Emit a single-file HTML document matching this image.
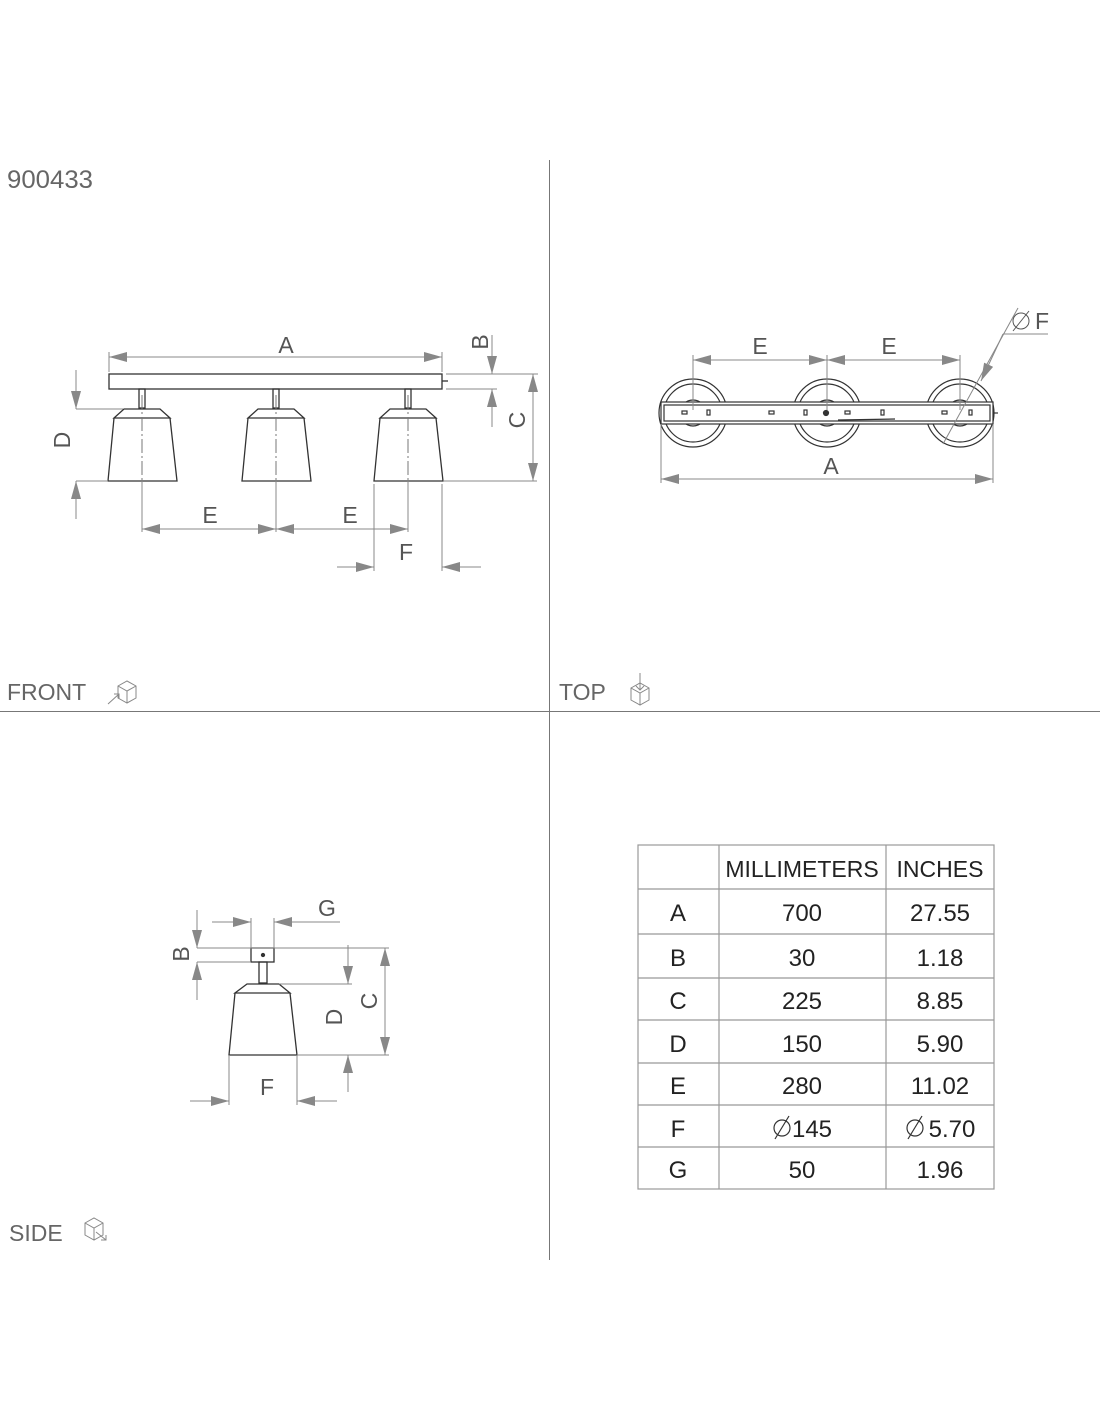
<!DOCTYPE html>
<html><head><meta charset="utf-8"><style>
html,body{margin:0;padding:0;background:#fff;}
svg{display:block;}
text{font-family:"Liberation Sans",sans-serif;}
</style></head><body>
<svg width="1100" height="1422" viewBox="0 0 1100 1422" xmlns="http://www.w3.org/2000/svg">
<defs>
<marker id="ar" markerUnits="userSpaceOnUse" markerWidth="18" markerHeight="10" refX="18" refY="5" orient="auto-start-reverse"><path d="M0,0 L18,5 L0,10 z" fill="#888"/></marker>
</defs>
<rect width="1100" height="1422" fill="#fff"/>
<line x1="549.5" y1="160" x2="549.5" y2="1260" stroke="#777" stroke-width="1"/>
<line x1="0" y1="711.5" x2="1100" y2="711.5" stroke="#777" stroke-width="1"/>
<g fill="#666" font-size="23">
<text x="7" y="188" font-size="25" textLength="86" lengthAdjust="spacingAndGlyphs">900433</text>
<text x="7" y="700">FRONT</text>
<text x="559" y="700">TOP</text>
<text x="9" y="1241">SIDE</text>
</g>
<g fill="none" stroke="#888" stroke-width="1">
<path d="M118,686 L127,681 L136,686 L136,698 L127,703 L118,698 Z M118,686 L127,691 L136,686 M127,691 L127,703"/>
<path d="M108,704 L119,694 M114,694 L119,694 L119,699"/>
<path d="M631,688 L640,683 L649,688 L649,700 L640,705 L631,700 Z M631,688 L640,693 L649,688 M640,693 L640,705"/>
<path d="M640,673 L640,690 M636,686 L640,690 L644,686"/>
<path d="M85,1223 L94,1218 L103,1223 L103,1235 L94,1240 L85,1235 Z M85,1223 L94,1228 L103,1223 M94,1228 L94,1240"/>
<path d="M96,1232 L106,1240 M101,1240 L106,1240 L106,1235"/>
</g>

<!-- FRONT VIEW -->
<g stroke="#333" stroke-width="1.3" fill="none">
<rect x="109" y="374" width="333" height="15"/>
<line x1="442" y1="381" x2="448" y2="381"/>
<g id="lamp">
<rect x="139" y="389" width="6" height="19"/>
<path d="M124,409 L160,409 L170,418 L114,418 Z"/>
<path d="M114,418 L108,481 L177,481 L170,418"/>
</g>
<use href="#lamp" x="134"/>
<use href="#lamp" x="266"/>
</g>
<g stroke="#777" stroke-width="1" stroke-dasharray="14,3,2,3" fill="none">
<line x1="142" y1="395" x2="142" y2="481"/>
<line x1="276" y1="395" x2="276" y2="481"/>
<line x1="408" y1="395" x2="408" y2="481"/>
</g>
<g stroke="#888" stroke-width="1" fill="none">
<line x1="109" y1="357" x2="442" y2="357" marker-start="url(#ar)" marker-end="url(#ar)"/>
<line x1="109" y1="352" x2="109" y2="372"/><line x1="442" y1="352" x2="442" y2="372"/>
<line x1="446" y1="374" x2="538" y2="374"/>
<line x1="446" y1="389" x2="497" y2="389"/>
<line x1="492" y1="335" x2="492" y2="374" marker-end="url(#ar)"/>
<line x1="492" y1="427" x2="492" y2="389" marker-end="url(#ar)"/>
<line x1="533" y1="374" x2="533" y2="481" marker-start="url(#ar)" marker-end="url(#ar)"/>
<line x1="444" y1="481" x2="537" y2="481"/>
<line x1="76" y1="409" x2="123" y2="409"/>
<line x1="76" y1="481" x2="108" y2="481"/>
<line x1="76" y1="370" x2="76" y2="409" marker-end="url(#ar)"/>
<line x1="76" y1="519" x2="76" y2="481" marker-end="url(#ar)"/>
<line x1="142" y1="481" x2="142" y2="532"/>
<line x1="276" y1="481" x2="276" y2="532"/>
<line x1="408" y1="481" x2="408" y2="532"/>
<line x1="142" y1="529" x2="276" y2="529" marker-start="url(#ar)" marker-end="url(#ar)"/>
<line x1="276" y1="529" x2="408" y2="529" marker-start="url(#ar)" marker-end="url(#ar)"/>
<line x1="374" y1="484" x2="374" y2="571"/>
<line x1="442" y1="484" x2="442" y2="571"/>
<line x1="337" y1="567" x2="374" y2="567" marker-end="url(#ar)"/>
<line x1="481" y1="567" x2="442" y2="567" marker-end="url(#ar)"/>
</g>
<g fill="#555" font-size="23" text-anchor="middle">
<text x="286" y="353">A</text>
<text x="210" y="523">E</text>
<text x="350" y="523">E</text>
<text x="406" y="560">F</text>
<text transform="translate(70,440) rotate(-90)">D</text>
<text transform="translate(525,420) rotate(-90)">C</text>
<text transform="translate(488,342) rotate(-90)">B</text>
</g>

<!-- TOP VIEW -->
<g stroke="#333" stroke-width="1.2" fill="none">
<g id="disc">
<circle cx="693" cy="413" r="34"/>
<circle cx="693" cy="413" r="29"/>
<circle cx="693" cy="413" r="13"/>
</g>
<use href="#disc" x="134"/>
<use href="#disc" x="267"/>
<rect x="661" y="402" width="332" height="22" fill="#fff"/>
<rect x="664" y="405" width="326" height="16"/>
<line x1="993" y1="413" x2="998" y2="413"/>
<rect x="682" y="411" width="5" height="3"/><rect x="707" y="410" width="3" height="5"/>
<rect x="769" y="411" width="5" height="3"/><rect x="804" y="410" width="3" height="5"/>
<circle cx="826" cy="413" r="2.5" fill="#333"/>
<rect x="845" y="411" width="5" height="3"/><rect x="881" y="410" width="3" height="5"/>
<rect x="942" y="411" width="5" height="3"/><rect x="969" y="410" width="3" height="5"/>
<line x1="838" y1="420" x2="895" y2="419"/>
</g>
<g stroke="#888" stroke-width="1" fill="none">
<line x1="693" y1="355" x2="693" y2="410"/>
<line x1="827" y1="355" x2="827" y2="410"/>
<line x1="960" y1="355" x2="960" y2="410"/>
<line x1="693" y1="360" x2="827" y2="360" marker-start="url(#ar)" marker-end="url(#ar)"/>
<line x1="827" y1="360" x2="960" y2="360" marker-start="url(#ar)" marker-end="url(#ar)"/>
<line x1="661" y1="424" x2="661" y2="483"/>
<line x1="993" y1="424" x2="993" y2="483"/>
<line x1="661" y1="479" x2="993" y2="479" marker-start="url(#ar)" marker-end="url(#ar)"/>
<line x1="943" y1="444" x2="1018" y2="308"/>
<line x1="1003" y1="334" x2="1048" y2="334"/>
<line x1="1003" y1="334" x2="981" y2="381" marker-end="url(#ar)"/>
</g>
<g fill="#555" font-size="23" text-anchor="middle">
<text x="760" y="354">E</text>
<text x="889" y="354">E</text>
<text x="831" y="474">A</text>
<text x="1042" y="329">F</text>
</g>
<g stroke="#555" fill="none" stroke-width="1"><circle cx="1021" cy="321" r="8"/><line x1="1013" y1="331" x2="1029" y2="311"/></g>

<!-- SIDE VIEW -->
<g stroke="#333" stroke-width="1.3" fill="none">
<rect x="251" y="948" width="23" height="14"/>
<circle cx="263" cy="955" r="1.5" fill="#333"/>
<rect x="259" y="962" width="8" height="21"/>
<path d="M247,984 L279,984 L290,993 L235,993 Z"/>
<path d="M235,993 L229,1055 L297,1055 L290,993"/>
</g>
<g stroke="#888" stroke-width="1" fill="none">
<line x1="251" y1="918" x2="251" y2="948"/><line x1="274" y1="918" x2="274" y2="948"/>
<line x1="212" y1="922" x2="251" y2="922" marker-end="url(#ar)"/>
<line x1="340" y1="922" x2="274" y2="922" marker-end="url(#ar)"/>
<line x1="197" y1="948" x2="389" y2="948"/>
<line x1="197" y1="962" x2="251" y2="962"/>
<line x1="197" y1="910" x2="197" y2="948" marker-end="url(#ar)"/>
<line x1="197" y1="1000" x2="197" y2="962" marker-end="url(#ar)"/>
<line x1="279" y1="984" x2="352" y2="984"/>
<line x1="348" y1="945" x2="348" y2="984" marker-end="url(#ar)"/>
<line x1="348" y1="1092" x2="348" y2="1055" marker-end="url(#ar)"/>
<line x1="385" y1="948" x2="385" y2="1055" marker-start="url(#ar)" marker-end="url(#ar)"/>
<line x1="297" y1="1055" x2="389" y2="1055"/>
<line x1="229" y1="1055" x2="229" y2="1105"/><line x1="297" y1="1055" x2="297" y2="1105"/>
<line x1="190" y1="1101" x2="229" y2="1101" marker-end="url(#ar)"/>
<line x1="337" y1="1101" x2="297" y2="1101" marker-end="url(#ar)"/>
</g>
<g fill="#555" font-size="23" text-anchor="middle">
<text x="327" y="916">G</text>
<text x="267" y="1095">F</text>
<text transform="translate(342,1017) rotate(-90)">D</text>
<text transform="translate(377,1001) rotate(-90)">C</text>
<text transform="translate(189,954) rotate(-90)">B</text>
</g>

<!-- TABLE -->
<g stroke="#999" stroke-width="1.2" fill="none">
<rect x="638" y="845" width="356" height="344"/>
<line x1="719" y1="845" x2="719" y2="1189"/>
<line x1="886" y1="845" x2="886" y2="1189"/>
<line x1="638" y1="889" x2="994" y2="889"/>
<line x1="638" y1="934" x2="994" y2="934"/>
<line x1="638" y1="978" x2="994" y2="978"/>
<line x1="638" y1="1020" x2="994" y2="1020"/>
<line x1="638" y1="1063" x2="994" y2="1063"/>
<line x1="638" y1="1105" x2="994" y2="1105"/>
<line x1="638" y1="1147" x2="994" y2="1147"/>
</g>
<g fill="#222" font-size="24" text-anchor="middle">
<text x="802" y="877" font-size="23">MILLIMETERS</text>
<text x="940" y="877" font-size="23">INCHES</text>
<text x="678" y="921">A</text><text x="802" y="921">700</text><text x="940" y="921">27.55</text>
<text x="678" y="966">B</text><text x="802" y="966">30</text><text x="940" y="966">1.18</text>
<text x="678" y="1009">C</text><text x="802" y="1009">225</text><text x="940" y="1009">8.85</text>
<text x="678" y="1052">D</text><text x="802" y="1052">150</text><text x="940" y="1052">5.90</text>
<text x="678" y="1094">E</text><text x="802" y="1094">280</text><text x="940" y="1094">11.02</text>
<text x="678" y="1137">F</text><text x="812" y="1137">145</text><text x="952" y="1137">5.70</text>
<text x="678" y="1178">G</text><text x="802" y="1178">50</text><text x="940" y="1178">1.96</text>
</g>
<g stroke="#333" fill="none" stroke-width="1.2">
<circle cx="782" cy="1128" r="8"/><line x1="775" y1="1139" x2="789" y2="1116"/>
<circle cx="915" cy="1128" r="8"/><line x1="908" y1="1139" x2="922" y2="1116"/>
</g>
</svg>
</body></html>
